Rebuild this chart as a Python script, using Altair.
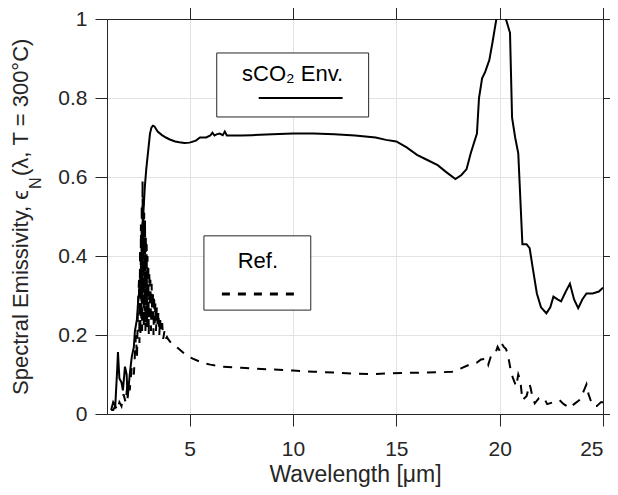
import altair as alt
import pandas as pd

# sCO2 Env. (solid) spectrum
sco2_x = [1.2, 1.3, 1.4, 1.5, 1.53, 1.6, 1.7, 1.77, 1.87, 1.95, 2.0, 2.1, 2.2, 2.3, 2.35, 2.45,
          2.5, 2.6, 2.68, 2.75, 2.83, 2.9, 3.0, 3.08, 3.15, 3.22, 3.3, 3.45, 3.66, 3.85, 4.04,
          4.3, 4.5, 4.75, 5.0, 5.3, 5.5, 5.8, 6.0, 6.1, 6.2, 6.3, 6.45, 6.6, 6.7, 6.8, 7.0,
          7.5, 8.0, 9.0, 10.0, 11.0, 12.0, 13.0, 14.0, 14.5, 15.0, 15.5, 16.0, 16.5, 17.0,
          17.4, 17.86, 18.15, 18.4, 18.6, 18.9, 19.0, 19.15, 19.3, 19.5, 19.65, 19.84, 20.0,
          20.1, 20.3, 20.5, 20.6, 20.75, 20.9, 21.1, 21.3, 21.45, 21.6, 21.8, 22.0, 22.26,
          22.45, 22.6, 22.8, 22.97, 23.2, 23.4, 23.6, 23.8, 24.0, 24.2, 24.5, 24.8, 25.0]
sco2_y = [0.01, 0.03, 0.02, 0.12, 0.157, 0.09, 0.08, 0.06, 0.12, 0.10, 0.04, 0.10, 0.145, 0.17,
          0.21, 0.24, 0.28, 0.33, 0.41, 0.50, 0.575, 0.62, 0.67, 0.71, 0.725, 0.73, 0.728,
          0.715, 0.706, 0.700, 0.695, 0.690, 0.688, 0.686, 0.687, 0.692, 0.700, 0.700, 0.705,
          0.712, 0.705, 0.708, 0.710, 0.706, 0.715, 0.705, 0.705, 0.705, 0.706, 0.708, 0.710,
          0.710, 0.708, 0.705, 0.700, 0.694, 0.690, 0.675, 0.656, 0.643, 0.630, 0.613, 0.595,
          0.605, 0.620, 0.660, 0.710, 0.800, 0.850, 0.866, 0.896, 0.940, 1.000, 1.040, 1.040,
          1.000, 0.965, 0.750, 0.700, 0.660, 0.430, 0.430, 0.420, 0.370, 0.305, 0.270, 0.255,
          0.270, 0.297, 0.290, 0.285, 0.310, 0.330, 0.290, 0.268, 0.290, 0.305, 0.305, 0.310,
          0.320]

# Ref. (dashed) spectrum
ref_x = [1.2, 1.3, 1.4, 1.5, 1.6, 1.7, 1.8, 1.9, 2.0, 2.1, 2.2, 2.3, 2.4, 2.45, 2.5,
         2.55, 2.57, 2.60, 2.62, 2.64, 2.66, 2.68, 2.70, 2.72, 2.74, 2.76, 2.78, 2.80, 2.82,
         2.84, 2.86, 2.88, 2.90, 2.92, 2.94, 2.96, 2.98, 3.00, 3.02, 3.05, 3.08, 3.10, 3.13,
         3.16, 3.19, 3.22, 3.25, 3.28, 3.31, 3.34, 3.37, 3.41, 3.45, 3.49, 3.53, 3.57, 3.62,
         3.67, 3.72, 3.78, 3.84, 3.90, 3.95, 4.1,
         4.43, 4.8, 5.15, 5.6, 6.0, 6.6, 7.5, 8.9, 10.0, 11.0, 12.0, 13.0, 13.8, 14.6, 15.5,
         16.5, 17.3, 17.7, 18.1, 18.5, 18.9, 19.1, 19.36, 19.45, 19.6, 19.8, 19.9, 20.0, 20.1,
         20.2, 20.3, 20.37, 20.45, 20.56, 20.65, 20.8, 20.9, 21.0, 21.05, 21.1, 21.3, 21.45,
         21.5, 21.6, 21.7, 21.9, 22.06, 22.2, 22.3, 22.6, 22.9, 23.1, 23.4, 23.6, 23.85, 24.0,
         24.2, 24.3, 24.4, 24.55, 24.7, 24.9, 25.0]
ref_y = [0.01, 0.01, 0.02, 0.01, 0.03, 0.02, 0.05, 0.03, 0.08, 0.06, 0.12, 0.10, 0.20, 0.14, 0.28,
         0.34, 0.18, 0.42, 0.20, 0.48, 0.24, 0.53, 0.21, 0.59, 0.30, 0.56, 0.22, 0.51, 0.26,
         0.49, 0.21, 0.45, 0.30, 0.43, 0.22, 0.40, 0.27, 0.38, 0.20, 0.36, 0.25, 0.34, 0.21,
         0.33, 0.24, 0.31, 0.20, 0.30, 0.23, 0.28, 0.21, 0.27, 0.22, 0.26, 0.20, 0.24, 0.21,
         0.23, 0.19, 0.21, 0.19, 0.195, 0.19, 0.18,
         0.167, 0.15, 0.14, 0.13, 0.125, 0.12, 0.117, 0.113, 0.110, 0.107, 0.105, 0.102,
         0.101, 0.103, 0.104, 0.105, 0.106, 0.107, 0.115, 0.124, 0.130, 0.138, 0.140, 0.125,
         0.150, 0.155, 0.170, 0.160, 0.178, 0.170, 0.165, 0.155, 0.135, 0.104, 0.090, 0.070,
         0.100, 0.085, 0.060, 0.035, 0.045, 0.075, 0.065, 0.040, 0.027, 0.040, 0.043, 0.035,
         0.025, 0.030, 0.035, 0.025, 0.015, 0.025, 0.035, 0.050, 0.075, 0.050, 0.035, 0.020,
         0.020, 0.030, 0.030]

x_ticks = [5, 10, 15, 20, 25]
y_ticks = [0, 0.2, 0.4, 0.6, 0.8, 1]

# legend boxes (data units)
leg_labels = ["sCO\u2082 Env.", "Ref."]
leg_box_x = [6.31, 5.69]
leg_box_x2 = [13.66, 10.86]
leg_box_y = [0.752, 0.263]
leg_box_y2 = [0.914, 0.451]
leg_text_x = [9.98, 8.3]
leg_text_y = [0.862, 0.387]
leg_line_x = [8.34, 6.56]
leg_line_x2 = [12.40, 10.23]
leg_line_y = [0.800, 0.304]

INK = "#262626"
FONT = "Liberation Sans"

xs = alt.Scale(domain=[1, 25], nice=False, zero=False)
ys = alt.Scale(domain=[0, 1], nice=False, zero=False)

df_s = pd.DataFrame({"x": sco2_x, "y": sco2_y})
df_r = pd.DataFrame({"x": ref_x, "y": ref_y})
df_leg = pd.DataFrame({
    "label": leg_labels, "bx": leg_box_x, "bx2": leg_box_x2, "by": leg_box_y, "by2": leg_box_y2,
    "tx": leg_text_x, "ty": leg_text_y, "lx": leg_line_x, "lx2": leg_line_x2, "ly": leg_line_y,
})

xax = alt.Axis(values=x_ticks, title="Wavelength [\u03bcm]", grid=True, tickSize=12,
               labelPadding=12, titlePadding=4, titleFontSize=23)
yax = alt.Axis(values=y_ticks, title=None, grid=True, tickSize=12, labelPadding=8,
               labelExpr="datum.value == 0 ? '0' : (datum.value == 1 ? '1' : format(datum.value, '.1f'))")

solid = alt.Chart(df_s).mark_line(color="black", strokeWidth=2, clip=True).encode(
    x=alt.X("x:Q", scale=xs, axis=xax),
    y=alt.Y("y:Q", scale=ys, axis=yax),
    order="x:Q",
)
dashed = alt.Chart(df_r).mark_line(color="black", strokeWidth=2, strokeDash=[9, 8], clip=True).encode(
    x=alt.X("x:Q", scale=xs),
    y=alt.Y("y:Q", scale=ys),
    order="x:Q",
)

boxes = alt.Chart(df_leg).mark_rect(fill="white", stroke=INK, strokeWidth=1).encode(
    x="bx:Q", x2="bx2", y="by:Q", y2="by2"
)
texts = alt.Chart(df_leg).mark_text(font=FONT, fontSize=22, color="black", baseline="middle").encode(
    x="tx:Q", y="ty:Q", text="label:N"
)
leg_solid = alt.Chart(df_leg.iloc[[0]]).mark_rule(color="black", strokeWidth=2).encode(
    x="lx:Q", x2="lx2", y="ly:Q"
)
leg_dash = alt.Chart(df_leg.iloc[[1]]).mark_rule(color="black", strokeWidth=3, strokeDash=[8, 8]).encode(
    x="lx:Q", x2="lx2", y="ly:Q"
)

# y-axis title with subscript
yt1 = alt.Chart(pd.DataFrame({"t": ["Spectral Emissivity, \u03f5"]})).mark_text(
    font=FONT, fontSize=22, color=INK, angle=270, align="right", baseline="alphabetic"
).encode(x=alt.value(-79), y=alt.value(171), text="t:N")
yt2 = alt.Chart(pd.DataFrame({"t": ["N"]})).mark_text(
    font=FONT, fontSize=16, color=INK, angle=270, align="left", baseline="alphabetic"
).encode(x=alt.value(-66), y=alt.value(170), text="t:N")
yt3 = alt.Chart(pd.DataFrame({"t": ["(\u03bb, T = 300\u00b0C)"]})).mark_text(
    font=FONT, fontSize=22, color=INK, angle=270, align="left", baseline="alphabetic"
).encode(x=alt.value(-79), y=alt.value(157), text="t:N")

# top / right tick frame
frame = alt.Chart(df_s).mark_point(opacity=0).encode(
    x=alt.X("x:Q", scale=xs, axis=alt.Axis(orient="top", values=x_ticks, labels=False, title=None,
                                           grid=False, tickSize=12)),
    y=alt.Y("y:Q", scale=ys, axis=alt.Axis(orient="right", values=y_ticks, labels=False, title=None,
                                           grid=False, tickSize=12)),
)

main = alt.layer(solid, dashed, boxes, texts, leg_solid, leg_dash, yt1, yt2, yt3)
chart = alt.layer(main, frame).resolve_scale(x="independent", y="independent").properties(
    width=496, height=395,
    autosize=alt.AutoSizeParams(type="none"),
    padding={"left": 99, "top": 11, "right": 7, "bottom": 73},
).configure_view(stroke=INK, strokeWidth=1).configure_axis(
    domainColor=INK, tickColor=INK, labelColor=INK, titleColor=INK,
    labelFont=FONT, titleFont=FONT, labelFontSize=21, titleFontSize=22,
    titleFontWeight="normal", gridColor="#e3e3e3", gridWidth=1, domainWidth=1, tickWidth=1,
)

chart.save("out.html", embed_options={"renderer": "svg", "actions": False})
